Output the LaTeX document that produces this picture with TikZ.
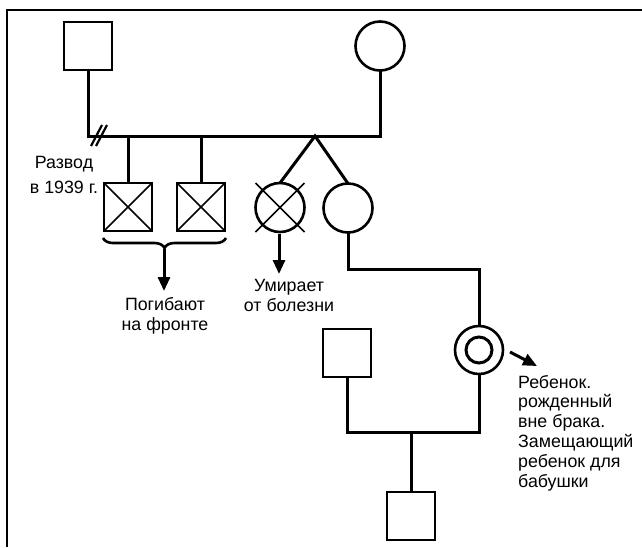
\documentclass[tikz,border=0pt]{standalone}
\usepackage{fontspec}
\setmainfont{Liberation Sans}
\usetikzlibrary{arrows.meta,decorations.pathreplacing,calc}
\tikzset{
  ln/.style={line width=3pt},
  sq/.style={draw,line width=2.8pt,minimum size=48pt,inner sep=0pt,outer sep=0pt},
  ci/.style={draw,circle,line width=2.6pt,minimum size=49pt,inner sep=0pt,outer sep=0pt},
  thin cross/.style={line width=1.6pt},
  lbl/.style={font=\fontsize{17.8}{20}\selectfont,inner sep=0pt,anchor=base},
  arr/.style={line width=3pt,-{Triangle[length=14pt,width=12pt]}},
}
\begin{document}
\begin{tikzpicture}[x=1pt,y=-1pt]
\useasboundingbox (0,0) rectangle (642,547);
% frame
\draw[line width=2.2pt] (7,547) -- (7,10) -- (642,10);
% persons
\node[sq] (father) at (88,46) {};
\node[ci] (mother) at (380,46) {};
\node[sq] (c1) at (128,207) {};
\node[sq] (c2) at (201,207) {};
\node[ci] (t1) at (280,207.5) {};
\node[ci] (t2) at (348,208) {};
\node[draw,circle,line width=2.6pt,minimum size=48pt,inner sep=0pt,outer sep=0pt] (dc) at (479,350) {};
\node[draw,circle,line width=3pt,minimum size=26pt,inner sep=0pt] (dci) at (dc.center) {};
\node[sq] (sp) at (347,353) {};
\node[sq] (gc) at (411,516) {};
% crosses
\draw[thin cross] (c1.north west) -- (c1.south east) (c1.north east) -- (c1.south west);
\draw[thin cross] (c2.north west) -- (c2.south east) (c2.north east) -- (c2.south west);
\draw[thin cross] ($(t1.center)+(-24.5,-24.5)$) -- ($(t1.center)+(24.5,24.5)$)
  ($(t1.center)+(24.5,-24.5)$) -- ($(t1.center)+(-24.5,24.5)$);
% marriage line
\coordinate (m1) at (88,136);
\coordinate (m2) at (380,136);
\coordinate (tw) at (315,136);
\draw[ln] (father.south) -- (m1) -- (m2) -- (mother.south);
\draw[ln] (c1.north) -- (c1.north |- m1);
\draw[ln] (c2.north) -- (c2.north |- m1);
\draw[ln] (t1.north) -- (tw) -- (t2.north);
% divorce
\coordinate (dv) at (99,135);
\draw[line width=2.2pt] ($(dv)+(-8,11)$) -- ($(dv)+(3,-10)$);
\draw[line width=2.2pt] ($(dv)+(-3,11)$) -- ($(dv)+(8,-10)$);
% line to illegitimate child
\coordinate (k1) at (348,269);
\coordinate (k2) at (479,269);
\draw[ln] (t2.south) -- (k1) -- (k2) -- (dc.north);
% second marriage
\coordinate (n1) at (347,432);
\coordinate (n2) at (479,432);
\coordinate (n3) at (411,432);
\draw[ln] (sp.south) -- (n1) -- (n2) -- (dc.south);
\draw[ln] (gc.north) -- (n3);
% brace
\draw[line width=2.6pt,decorate,decoration={brace,mirror,amplitude=10pt}] (103,238) -- (226,238);
\coordinate (bt) at (164,249);
\coordinate (be) at (164,291);
\draw[arr] (bt) -- (be);
\coordinate (ts) at (279,234);
\coordinate (te) at (279,274);
\draw[arr] (ts) -- (te);
\coordinate (ds) at (510,352);
\coordinate (de) at (537,366);
\draw[arr] (ds) -- (de);
% labels (anchor base = baseline of the last line)
\node[lbl,align=center,font=\fontsize{17.8}{25}\selectfont] (razvod) at (64,193) {Развод\\в 1939 г.};
\node[lbl,align=center] (pog) at (165,330) {Погибают\\на фронте};
\node[lbl,align=center] (umir) at (289,311) {Умирает\\от болезни};
\node[lbl,align=left,anchor=base west,font=\fontsize{17.8}{19.8}\selectfont] (reb) at (518,487) {Ребенок.\\рожденный\\вне брака.\\Замещающий\\ребенок для\\бабушки};
\end{tikzpicture}
\end{document}
